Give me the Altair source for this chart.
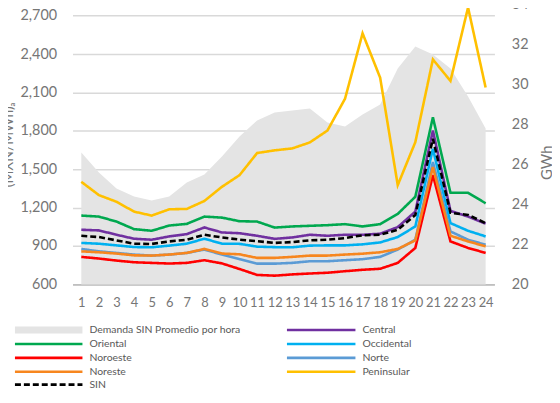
import altair as alt
import pandas as pd

hours = list(range(1, 25))
demanda = [26.6, 25.6, 24.8, 24.4, 24.2, 24.4, 25.1, 25.5, 26.4, 27.4, 28.2, 28.6, 28.7, 28.8,
           28.1, 27.9, 28.5, 29.0, 30.8, 31.9, 31.5, 30.8, 29.4, 27.8]

central = [1027, 1022, 988, 957, 949, 975, 993, 1045, 1006, 1000, 980, 956, 967, 988,
           980, 988, 988, 996, 1048, 1169, 1803, 1175, 1130, 1075]
oriental = [1138, 1130, 1091, 1032, 1019, 1060, 1073, 1130, 1122, 1094, 1091, 1044, 1053, 1058,
            1063, 1071, 1053, 1071, 1151, 1285, 1906, 1316, 1316, 1234]
occidental = [924, 918, 905, 892, 890, 903, 918, 957, 918, 917, 895, 891, 890, 903,
              905, 905, 913, 928, 970, 1053, 1661, 1079, 1019, 975]
noroeste = [815, 802, 786, 773, 768, 763, 768, 789, 764, 720, 674, 668, 678, 685,
            691, 703, 714, 722, 768, 885, 1454, 936, 885, 846]
norte = [877, 858, 846, 833, 825, 833, 846, 872, 833, 797, 762, 762, 768, 781,
         781, 789, 797, 815, 872, 949, 1557, 1014, 949, 910]
noreste = [858, 851, 841, 827, 825, 833, 846, 877, 841, 835, 807, 807, 815, 825,
           825, 833, 840, 851, 877, 944, 1518, 980, 936, 897]
peninsular = [1402, 1298, 1246, 1169, 1138, 1187, 1190, 1252, 1363, 1454, 1627, 1648, 1663, 1710,
              1803, 2051, 2563, 2216, 1376, 1712, 2359, 2191, 2765, 2139]
sin = [980, 970, 944, 918, 916, 936, 949, 988, 967, 950, 938, 924, 931, 944,
       949, 962, 984, 988, 1027, 1143, 1738, 1160, 1143, 1079]

series_names = ["Oriental", "Central", "Occidental", "Noroeste", "Norte", "Noreste", "Peninsular", "SIN"]
series_values = [oriental, central, occidental, noroeste, norte, noreste, peninsular, sin]
series_colors = ["#00A84F", "#7030A0", "#00B0F0", "#FF0000", "#5B9BD5", "#F7861E", "#FFC000", "#000000"]
series_dash = [[1, 0]] * 7 + [[6, 3]]

left_ticks = [600, 900, 1200, 1500, 1800, 2100, 2400, 2700]
right_ticks = [20, 22, 24, 26, 28, 30, 32, 34]

area_label = "Demanda SIN Promedio por hora"
area_color = "#E4E4E4"

legend_left = [area_label, "Oriental", "Noroeste", "Noreste", "SIN"]
legend_right = ["Central", "Occidental", "Norte", "Peninsular"]

rows = []
for name, vals in zip(series_names, series_values):
    for h, v in zip(hours, vals):
        rows.append({"hora": h, "serie": name, "valor": v})
lines_df = pd.DataFrame(rows)
area_df = pd.DataFrame({"hora": hours, "demanda": demanda})

FONT = "Lato"
LABEL = "#767676"
W, H = 425, 282

x_axis = alt.Axis(values=hours, format="d", title=None, grid=False, ticks=False, domainColor="#BFBFBF",
                  domainWidth=2, labelFontSize=13, labelColor=LABEL, labelPadding=12,
                  labelFont=FONT, labelFlush=False, labelOverlap=False, labelSeparation=0)
x_scale = alt.Scale(domain=[0.5, 24.5], nice=False, zero=False)

area = alt.Chart(area_df).mark_area(color=area_color, opacity=1).encode(
    x=alt.X("hora:Q", scale=x_scale, axis=x_axis),
    y=alt.Y("demanda:Q",
            scale=alt.Scale(domain=[20, 34], nice=False, zero=False),
            axis=alt.Axis(orient="right", values=right_ticks, format="d", grid=False, ticks=False,
                          domain=False, labelFontSize=14.5, labelColor=LABEL, labelPadding=17,
                          labelFont=FONT, labelOverlap=False,
                          title="GWh", titleAngle=270, titleX=58, titleY=159, titleFontSize=15,
                          titleColor=LABEL, titleFontWeight="normal", titleFont=FONT,
                          titleBaseline="alphabetic", titleAlign="center")),
    y2=alt.datum(20),
)

lines = alt.Chart(lines_df).mark_line(strokeWidth=2.6).encode(
    x=alt.X("hora:Q", scale=x_scale, axis=x_axis),
    y=alt.Y("valor:Q",
            scale=alt.Scale(domain=[600, 2789], nice=False, zero=False),
            axis=alt.Axis(orient="left", values=left_ticks, format=",.0f", grid=True, gridColor="#D9D9D9",
                          gridWidth=1.5, ticks=False, domain=False, labelFontSize=14.5,
                          labelColor=LABEL, labelPadding=16, labelFont=FONT, labelOverlap=False,
                          title="(MXN/MWh)ₐ", titleX=-60, titleY=141, titleAngle=270,
                          titleBaseline="alphabetic", titleAlign="center", titleFontSize=14,
                          titleFontWeight="normal", titleColor=LABEL, titleFont=FONT)),
    color=alt.Color("serie:N", scale=alt.Scale(domain=series_names, range=series_colors), legend=None),
    strokeDash=alt.StrokeDash("serie:N", scale=alt.Scale(domain=series_names, range=series_dash), legend=None),
    detail="serie:N",
)

color_of = dict(zip(series_names, series_colors))
dash_of = dict(zip(series_names, series_dash))
one = pd.DataFrame({"k": [0]})

legend_layers = []
row_y = [328, 342, 356, 370, 383]
for col, (labels, sx0, sx1, tx) in enumerate([(legend_left, -58, 10, 17), (legend_right, 216, 285, 292)]):
    for i, lab in enumerate(labels):
        yy = row_y[i]
        if lab == area_label:
            sym = alt.Chart(one).mark_rect(color=area_color).encode(
                x=alt.value(sx0), x2=alt.value(sx1), y=alt.value(yy - 3.5), y2=alt.value(yy + 3.5))
        else:
            sym = alt.Chart(one).mark_rule(color=color_of[lab], strokeWidth=2.6,
                                           strokeDash=dash_of[lab] if lab == "SIN" else [1, 0]).encode(
                x=alt.value(sx0), x2=alt.value(sx1), y=alt.value(yy))
        txt = alt.Chart(one).mark_text(align="left", baseline="middle", font=FONT, fontSize=10.5,
                                       color="#595959").encode(
            x=alt.value(tx), y=alt.value(yy), text=alt.value(lab))
        legend_layers += [sym, txt]

chart = alt.layer(area, lines, *legend_layers).resolve_scale(y="independent").properties(
    width=W, height=H,
    padding={"left": 65, "top": -5, "right": 58, "bottom": 106},
    autosize=alt.AutoSizeParams(type="none"),
).configure_view(stroke=None)

chart.save("out.html", embed_options={"renderer": "svg", "actions": False})
